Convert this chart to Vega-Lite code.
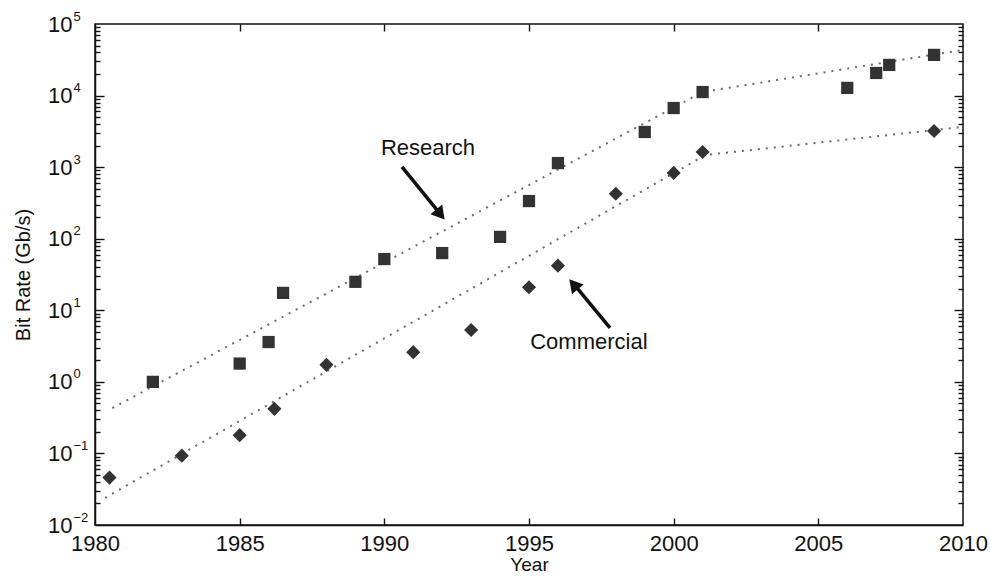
{
  "$schema": "https://vega.github.io/schema/vega-lite/v6.json",
  "width": 868,
  "height": 501,
  "autosize": {"type": "none"},
  "padding": {"left": 95, "top": 24, "right": 27, "bottom": 51},
  "background": "white",
  "config": {
    "font": "Liberation Sans",
    "view": {"stroke": "#111", "strokeWidth": 1.5},
    "axis": {
      "grid": false,
      "domainColor": "#111",
      "domainWidth": 1.5,
      "tickColor": "#111",
      "tickWidth": 1.4,
      "labelColor": "#111",
      "labelFontSize": 22,
      "labelFont": "Liberation Sans",
      "titleFont": "Liberation Sans",
      "titleFontSize": 20,
      "titleFontWeight": "normal",
      "titleColor": "#111"
    }
  },
  "datasets": {
    "pts": [
      {"series": "Research", "year": 1982, "rate": 1.0},
      {"series": "Research", "year": 1985, "rate": 1.8},
      {"series": "Research", "year": 1986, "rate": 3.6},
      {"series": "Research", "year": 1986.5, "rate": 17.5},
      {"series": "Research", "year": 1989, "rate": 25},
      {"series": "Research", "year": 1990, "rate": 52},
      {"series": "Research", "year": 1992, "rate": 63},
      {"series": "Research", "year": 1994, "rate": 106},
      {"series": "Research", "year": 1995, "rate": 336},
      {"series": "Research", "year": 1996, "rate": 1140},
      {"series": "Research", "year": 1999, "rate": 3100},
      {"series": "Research", "year": 2000, "rate": 6700},
      {"series": "Research", "year": 2001, "rate": 11200},
      {"series": "Research", "year": 2006, "rate": 12800},
      {"series": "Research", "year": 2007, "rate": 20700},
      {"series": "Research", "year": 2007.45, "rate": 26800},
      {"series": "Research", "year": 2009, "rate": 37000},
      {"series": "Commercial", "year": 1980.5, "rate": 0.046},
      {"series": "Commercial", "year": 1983, "rate": 0.093},
      {"series": "Commercial", "year": 1985, "rate": 0.18},
      {"series": "Commercial", "year": 1986.2, "rate": 0.42},
      {"series": "Commercial", "year": 1988, "rate": 1.73},
      {"series": "Commercial", "year": 1991, "rate": 2.6},
      {"series": "Commercial", "year": 1993, "rate": 5.3},
      {"series": "Commercial", "year": 1995, "rate": 21},
      {"series": "Commercial", "year": 1996, "rate": 42},
      {"series": "Commercial", "year": 1998, "rate": 425},
      {"series": "Commercial", "year": 2000, "rate": 830},
      {"series": "Commercial", "year": 2001, "rate": 1630},
      {"series": "Commercial", "year": 2009, "rate": 3200}
    ],
    "fits": [
      {"series": "Research", "year": 1980.6, "rate": 0.43},
      {"series": "Research", "year": 2001, "rate": 11200},
      {"series": "Research", "year": 2010, "rate": 43500},
      {"series": "Commercial", "year": 1980.35, "rate": 0.024},
      {"series": "Commercial", "year": 2001.1, "rate": 1480},
      {"series": "Commercial", "year": 2010, "rate": 3650}
    ],
    "arrows": [
      {"name": "Research", "x1": 1990.61, "y1": 1007, "x2": 1992.0, "y2": 205, "hx": 1991.94, "hy": 218, "angle": 141},
      {"name": "Commercial", "x1": 1997.8, "y1": 5.66, "x2": 1996.5, "y2": 24.5, "hx": 1996.54, "hy": 23.0, "angle": 320}
    ],
    "labels": [
      {"text": "Research", "year": 1991.51, "rate": 1854},
      {"text": "Commercial", "year": 1997.07, "rate": 3.61}
    ]
  },
  "layer": [
    {
      "data": {"name": "fits"},
      "mark": {"type": "line", "strokeDash": [2, 6], "strokeWidth": 2, "color": "#6a6a6a"},
      "encoding": {
        "x": {
          "field": "year", "type": "quantitative",
          "scale": {"domain": [1980, 2010], "nice": false, "zero": false},
          "axis": {
            "orient": "bottom", "title": "Year", "values": [1980, 1985, 1990, 1995, 2000, 2005, 2010],
            "format": "d", "ticks": false, "labelPadding": 8, "labelFlush": false, "titlePadding": 1, "titleFontSize": 19
          }
        },
        "y": {
          "field": "rate", "type": "quantitative",
          "scale": {"type": "log", "domain": [0.01, 100000], "nice": false},
          "axis": {
            "orient": "left", "title": "Bit Rate (Gb/s)",
            "values": [0.01, 0.1, 1, 10, 100, 1000, 10000, 100000],
            "labelExpr": "'10'",
            "labelOverlap": false,
            "labelFlush": false,
            "ticks": false,
            "labelPadding": 23,
            "titlePadding": 14
          }
        },
        "detail": {"field": "series"}
      }
    },
    {
      "data": {"name": "pts"},
      "mark": {"type": "point", "filled": true, "opacity": 1, "color": "#333"},
      "encoding": {
        "x": {"field": "year", "type": "quantitative", "axis": null},
        "y": {"field": "rate", "type": "quantitative", "axis": null},
        "shape": {"field": "series", "type": "nominal", "scale": {"domain": ["Research", "Commercial"], "range": ["square", "diamond"]}, "legend": null},
        "size": {"field": "series", "type": "nominal", "scale": {"domain": ["Research", "Commercial"], "range": [150, 200]}, "legend": null}
      }
    },
    {
      "data": {"name": "arrows"},
      "mark": {"type": "rule", "strokeWidth": 3.5, "color": "#111"},
      "encoding": {
        "x": {"field": "x1", "type": "quantitative", "axis": null},
        "y": {"field": "y1", "type": "quantitative", "axis": null},
        "x2": {"field": "x2"},
        "y2": {"field": "y2"}
      }
    },
    {
      "data": {"name": "arrows"},
      "mark": {"type": "point", "shape": "triangle-up", "filled": true, "opacity": 1, "color": "#111", "size": 230},
      "encoding": {
        "x": {"field": "hx", "type": "quantitative", "axis": null},
        "y": {"field": "hy", "type": "quantitative", "axis": null},
        "angle": {"field": "angle", "type": "quantitative", "scale": null}
      }
    },
    {
      "data": {"name": "labels"},
      "mark": {"type": "text", "fontSize": 22, "font": "Liberation Sans", "color": "#111", "align": "center", "baseline": "middle"},
      "encoding": {
        "x": {"field": "year", "type": "quantitative", "axis": null},
        "y": {"field": "rate", "type": "quantitative", "axis": null},
        "text": {"field": "text"}
      }
    },
    {
      "data": {"name": "fits"},
      "mark": {"type": "point", "opacity": 0},
      "encoding": {
        "x": {"field": "year", "type": "quantitative", "axis": null},
        "y": {
          "field": "rate", "type": "quantitative",
          "axis": {
            "orient": "left", "title": null, "domain": false, "ticks": false,
            "values": [0.01, 0.1, 1, 10, 100, 1000, 10000, 100000],
            "labelExpr": "datum.value == 0.01 ? '−2' : datum.value == 0.1 ? '−1' : datum.value == 1 ? '0' : datum.value == 10 ? '1' : datum.value == 100 ? '2' : datum.value == 1000 ? '3' : datum.value == 10000 ? '4' : '5'",
            "labelAlign": "left",
            "labelFontSize": 13,
            "labelOffset": -8,
            "labelPadding": 22,
            "labelOverlap": false,
            "labelFlush": false
          }
        }
      }
    },
    {
      "data": {"name": "fits"},
      "mark": {"type": "point", "opacity": 0},
      "encoding": {
        "x": {
          "field": "year", "type": "quantitative",
          "axis": {"orient": "bottom", "title": null, "labels": false, "domain": false, "values": [1985, 1990, 1995, 2000, 2005], "tickSize": 7, "offset": -7}
        },
        "y": {
          "field": "rate", "type": "quantitative",
          "axis": {
            "orient": "left", "title": null, "labels": false, "domain": false,
            "values": [0.1, 1, 10, 100, 1000, 10000],
            "tickSize": 9, "offset": -9
          }
        }
      }
    },
    {
      "data": {"name": "fits"},
      "mark": {"type": "point", "opacity": 0},
      "encoding": {
        "x": {
          "field": "year", "type": "quantitative",
          "axis": {"orient": "top", "title": null, "labels": false, "domain": false, "values": [1985, 1990, 1995, 2000, 2005], "tickSize": 7, "offset": -7}
        },
        "y": {
          "field": "rate", "type": "quantitative",
          "axis": {
            "orient": "left", "title": null, "labels": false, "domain": false,
            "values": [0.02,0.03,0.04,0.05,0.06,0.07,0.08,0.09,0.2,0.3,0.4,0.5,0.6,0.7,0.8,0.9,2,3,4,5,6,7,8,9,20,30,40,50,60,70,80,90,200,300,400,500,600,700,800,900,2000,3000,4000,5000,6000,7000,8000,9000,20000,30000,40000,50000,60000,70000,80000,90000],
            "tickSize": 5, "offset": -5
          }
        }
      }
    },
    {
      "data": {"name": "fits"},
      "mark": {"type": "point", "opacity": 0},
      "encoding": {
        "x": {"field": "year", "type": "quantitative", "axis": null},
        "y": {
          "field": "rate", "type": "quantitative",
          "axis": {
            "orient": "right", "title": null, "labels": false, "domain": false,
            "values": [0.1, 1, 10, 100, 1000, 10000],
            "tickSize": 9, "offset": -9
          }
        }
      }
    },
    {
      "data": {"name": "fits"},
      "mark": {"type": "point", "opacity": 0},
      "encoding": {
        "x": {"field": "year", "type": "quantitative", "axis": null},
        "y": {
          "field": "rate", "type": "quantitative",
          "axis": {
            "orient": "right", "title": null, "labels": false, "domain": false,
            "values": [0.02,0.03,0.04,0.05,0.06,0.07,0.08,0.09,0.2,0.3,0.4,0.5,0.6,0.7,0.8,0.9,2,3,4,5,6,7,8,9,20,30,40,50,60,70,80,90,200,300,400,500,600,700,800,900,2000,3000,4000,5000,6000,7000,8000,9000,20000,30000,40000,50000,60000,70000,80000,90000],
            "tickSize": 5, "offset": -5
          }
        }
      }
    }
  ],
  "resolve": {"axis": {"x": "independent", "y": "independent"}}
}
